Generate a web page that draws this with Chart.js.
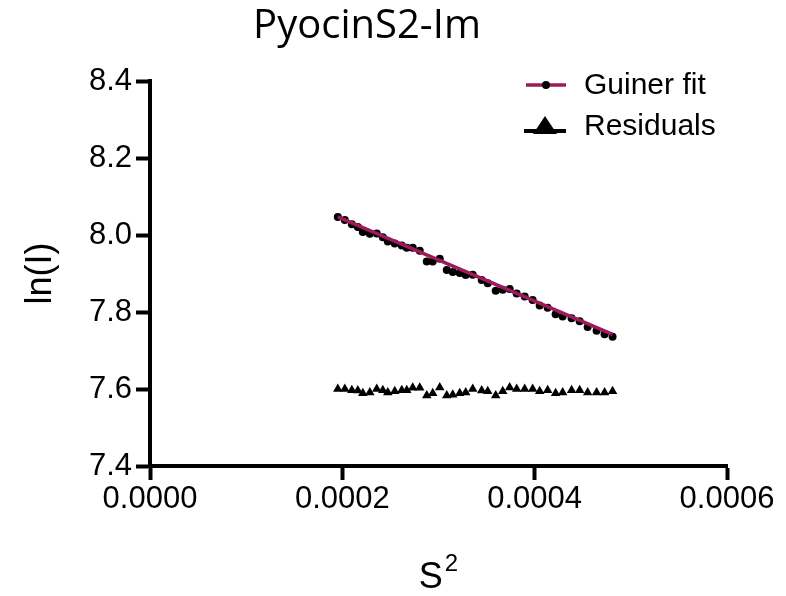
<!DOCTYPE html>
<html><head><meta charset="utf-8">
<script src="https://cdn.jsdelivr.net/npm/chart.js@4/dist/chart.umd.min.js"></script>
<style>html,body{margin:0;padding:0;background:#fff}#wrap{width:786px;height:596px}</style>
</head><body><div id="wrap"><canvas id="c" width="786" height="596"></canvas></div>
<script>
const chartTitle = 'PyocinS2-Im';
const xAxisTitle = 'S';
const xAxisTitleSup = '2';
const yAxisTitle = 'ln(I)';
const seriesNames = ['Guiner fit', 'Residuals'];
const xTicks = [0, 0.0002, 0.0004, 0.0006];
const xTickLabels = ['0.0000', '0.0002', '0.0004', '0.0006'];
const yTicks = [7.4, 7.6, 7.8, 8.0, 8.2, 8.4];
const yTickLabels = ['7.4', '7.6', '7.8', '8.0', '8.2', '8.4'];

// S^2 values of the measured points
const s2 = [0.0001953, 0.0002026, 0.0002099, 0.0002161, 0.0002213, 0.0002286, 0.0002358, 0.0002421,
  0.0002473, 0.0002545, 0.0002618, 0.0002670, 0.0002732, 0.0002805, 0.0002878, 0.0002940,
  0.0003013, 0.0003086, 0.0003148, 0.0003221, 0.0003283, 0.0003356, 0.0003449, 0.0003512,
  0.0003595, 0.0003668, 0.0003740, 0.0003813, 0.0003896, 0.0003979, 0.0004052, 0.0004135,
  0.0004218, 0.0004291, 0.0004384, 0.0004468, 0.0004551, 0.0004644, 0.0004727, 0.0004810];
// ln(I) measured
const lnI = [8.047, 8.039, 8.028, 8.021, 8.008, 8.003, 8.004, 7.994,
  7.983, 7.978, 7.973, 7.967, 7.967, 7.959, 7.931, 7.931,
  7.938, 7.909, 7.904, 7.901, 7.896, 7.897, 7.883, 7.875,
  7.855, 7.858, 7.860, 7.848, 7.840, 7.831, 7.817, 7.811,
  7.794, 7.788, 7.784, 7.776, 7.761, 7.751, 7.742, 7.736];
// residuals (plotted offset around 7.6)
const residuals = [7.600, 7.600, 7.597, 7.596, 7.589, 7.591, 7.600, 7.597,
  7.591, 7.594, 7.597, 7.597, 7.603, 7.603, 7.583, 7.589,
  7.604, 7.583, 7.585, 7.589, 7.591, 7.600, 7.596, 7.594,
  7.583, 7.594, 7.604, 7.600, 7.600, 7.600, 7.594, 7.597,
  7.589, 7.591, 7.597, 7.597, 7.591, 7.591, 7.591, 7.594];
// fitted line end points
const fitS2 = [0.0001953, 0.0004810];
const fitLnI = [8.047, 7.742];

const FIT_COLOR = '#9e1a5c';
const FONT_FAMILY = '"Liberation Sans", Arial, sans-serif';
const TICK_FONT = {family: FONT_FAMILY, size: 31};
const AXIS_TITLE_FONT = {family: FONT_FAMILY, size: 36};

const titlePlugin = {
  id: 'customTitle',
  afterDraw(chart) {
    const ctx = chart.ctx;
    ctx.save();
    ctx.fillStyle = '#000';
    ctx.font = '40px "Open Sans", sans-serif';
    ctx.textAlign = 'center';
    ctx.textBaseline = 'alphabetic';
    ctx.fillText(chartTitle, 367, 38);
    // x axis title with superscript
    const ca = chart.chartArea;
    const cx = (ca.left + ca.right) / 2;
    ctx.font = '36px ' + FONT_FAMILY;
    const wS = ctx.measureText(xAxisTitle).width;
    ctx.font = '24px ' + FONT_FAMILY;
    const wSup = ctx.measureText(xAxisTitleSup).width;
    const x0 = cx - (wS + 2 + wSup) / 2;
    ctx.textAlign = 'left';
    ctx.font = '36px ' + FONT_FAMILY;
    ctx.fillText(xAxisTitle, x0, 588);
    ctx.font = '24px ' + FONT_FAMILY;
    ctx.fillText(xAxisTitleSup, x0 + wS + 2, 571);
    ctx.restore();
  }
};

const legendPlugin = {
  id: 'customLegend',
  afterDraw(chart) {
    const ctx = chart.ctx;
    ctx.save();
    // Guiner fit
    ctx.strokeStyle = FIT_COLOR; ctx.lineWidth = 3.5;
    ctx.beginPath(); ctx.moveTo(526, 85); ctx.lineTo(566, 85); ctx.stroke();
    ctx.fillStyle = '#000';
    ctx.beginPath(); ctx.arc(546, 85, 4, 0, Math.PI * 2); ctx.fill();
    // Residuals
    ctx.strokeStyle = '#000'; ctx.lineWidth = 4;
    ctx.beginPath(); ctx.moveTo(524, 131); ctx.lineTo(566, 131); ctx.stroke();
    ctx.beginPath(); ctx.moveTo(545, 116); ctx.lineTo(557, 134); ctx.lineTo(533, 134); ctx.closePath(); ctx.fill();
    ctx.font = '30px ' + FONT_FAMILY;
    ctx.textAlign = 'left'; ctx.textBaseline = 'middle';
    ctx.fillText(seriesNames[0], 584, 86);
    ctx.fillText(seriesNames[1], 584, 127);
    ctx.restore();
  }
};

new Chart(document.getElementById('c'), {
  type: 'scatter',
  data: {
    datasets: [
      {
        label: seriesNames[0] + ' line',
        data: fitS2.map((x, i) => ({x, y: fitLnI[i]})),
        showLine: true, borderColor: FIT_COLOR, borderWidth: 3.5,
        pointRadius: 0, order: 0
      },
      {
        label: seriesNames[0],
        data: s2.map((x, i) => ({x, y: lnI[i]})),
        showLine: false, pointRadius: 4, pointBackgroundColor: '#000',
        pointBorderWidth: 0, order: 1
      },
      {
        label: seriesNames[1],
        data: s2.map((x, i) => ({x, y: residuals[i]})),
        showLine: false, pointStyle: 'triangle', pointRadius: 5.5,
        pointBackgroundColor: '#000', pointBorderWidth: 0, order: 2
      }
    ]
  },
  options: {
    responsive: false,
    animation: false,
    devicePixelRatio: 1,
    layout: {padding: {top: 81, right: 59, left: 0, bottom: 0}},
    plugins: {legend: {display: false}, tooltip: {enabled: false}, title: {display: false}},
    scales: {
      x: {
        type: 'linear', min: 0, max: 0.0006,
        afterBuildTicks: s => { s.ticks = xTicks.map(v => ({value: v})); },
        afterFit: s => { s.height = 130; s.paddingLeft = 0; s.paddingRight = 0; },
        ticks: {callback: (v, i) => xTickLabels[i], font: TICK_FONT, color: '#000', padding: 1, maxRotation: 0, autoSkip: false},
        grid: {drawOnChartArea: false, drawTicks: true, tickLength: 14, tickWidth: 4, tickColor: '#000'},
        border: {display: true, width: 4, color: '#000'},
        title: {display: false}
      },
      y: {
        type: 'linear', min: 7.4, max: 8.4,
        afterBuildTicks: s => { s.ticks = yTicks.map(v => ({value: v})); },
        afterFit: s => { s.width = 150; s.paddingTop = 0; s.paddingBottom = 0; },
        ticks: {callback: (v, i) => yTickLabels[i], font: TICK_FONT, color: '#000', padding: 4, autoSkip: false},
        grid: {drawOnChartArea: false, drawTicks: true, tickLength: 14, tickWidth: 4, tickColor: '#000'},
        border: {display: true, width: 4, color: '#000'},
        title: {display: true, text: yAxisTitle, font: AXIS_TITLE_FONT, color: '#000', padding: {top: 19, bottom: 0}}
      }
    }
  },
  plugins: [titlePlugin, legendPlugin]
});
</script>
</body></html>
